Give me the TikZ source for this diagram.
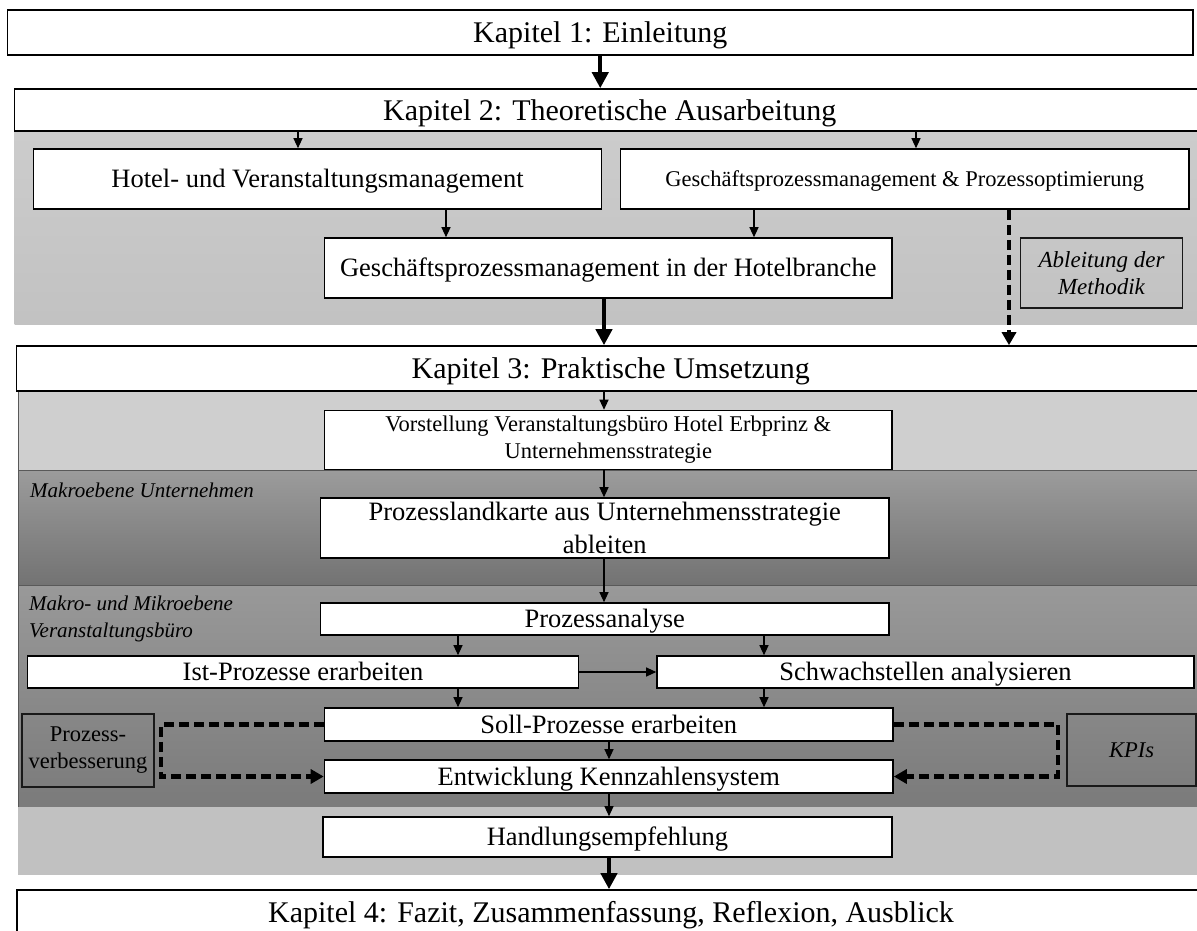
\documentclass[tikz,border=0pt]{standalone}
\usepackage{fontspec}
\setmainfont{Liberation Serif}
\usetikzlibrary{arrows.meta}

\begin{document}
\begin{tikzpicture}[x=1pt,y=-1pt,
  box/.style={draw=black, line width=1.6pt, fill=white, inner sep=0pt, align=center,
              font=\fontsize{26.5}{31}\selectfont},
  % single-line text boxes: height and depth follow the font's ascent and descent
  line30/.style={text height=26.7pt, text depth=6.5pt},
  line265/.style={text height=23.6pt, text depth=5.8pt},
  line225/.style={text height=20pt, text depth=4.9pt},
  chapbox/.style={box, line30, font=\fontsize{30}{34}\selectfont},
  sidebox/.style={draw=black!90, line width=1.3pt, inner sep=0pt, align=center,
              font=\fontsize{22.5}{27}\selectfont},
  bandlabel/.style={inner sep=0pt, align=left, font=\fontsize{21}{27}\selectfont\itshape},
  thinarrow/.style={line width=1.1pt, -{Triangle[length=10pt,width=9pt]}},
  thickarrow/.style={line width=4pt, -{Triangle[length=16pt,width=16pt]}},
  dashedarrow/.style={line width=4.2pt, dash pattern=on 10pt off 5pt,
              -{Triangle[length=13pt,width=14pt]}},
  bandline/.style={draw=black!65, line width=0.9pt}
]
\useasboundingbox (0,0) rectangle (1197,930);

% background bands
\shade[top color=black!20, bottom color=black!24] (14.5,131) rectangle (1205,324);
\fill[black!19] (18,391) rectangle (1205,470);
\shade[top color=black!39, bottom color=black!55] (18,470) rectangle (1205,585);
\path[bandline] (18,470) rectangle (1205,585);
\shade[top color=black!40, bottom color=black!52] (18,585) rectangle (1205,807);
\path[bandline] (18,585) rectangle (1205,807);
\fill[black!24.5] (18,807) rectangle (1205,875);
\path[bandline] (18,391) -- (18,470);

% chapter boxes
\node[chapbox, minimum width=1185.5pt, minimum height=45pt] (k1) at (600.25,32.5) {Kapitel 1: Einleitung};
\node[chapbox, minimum width=1190.5pt, minimum height=42pt] (k2) at (609.75,110) {Kapitel 2: Theoretische Ausarbeitung};
\node[chapbox, minimum width=1188.5pt, minimum height=45pt] (k3) at (610.75,368.5) {Kapitel 3: Praktische Umsetzung};
\node[chapbox, minimum width=1188pt, minimum height=44pt] (k4) at (611,912) {Kapitel 4: Fazit, Zusammenfassung, Reflexion, Ausblick};

% theory part
\node[box, line265, minimum width=568pt, minimum height=60pt] (hotel) at (317.5,179) {Hotel- und Veranstaltungsmanagement};
\node[box, line225, minimum width=568.5pt, minimum height=60pt, font=\fontsize{22.5}{27}\selectfont] (gpmpo) at (904.75,179) {Geschäftsprozessmanagement \& Prozessoptimierung};
\node[box, line265, minimum width=567.5pt, minimum height=60pt] (gpmh) at (608.25,268) {Geschäftsprozessmanagement in der Hotelbranche};
\node[sidebox, minimum width=162pt, minimum height=70pt, font=\fontsize{23}{27}\selectfont\itshape] (abl) at (1101.5,273) {Ableitung der\\Methodik};

% practical part
\node[box, minimum width=567.5pt, minimum height=59pt, font=\fontsize{22.5}{27}\selectfont] (vor) at (608.25,440) {Vorstellung Veranstaltungsbüro Hotel Erbprinz \&\\Unternehmensstrategie};
\node[bandlabel, anchor=west] (lmakro) at (30,490) {Makroebene Unternehmen};
\node[box, minimum width=568.5pt, minimum height=60pt, font=\fontsize{26.5}{33}\selectfont] (plk) at (604.75,528) {Prozesslandkarte aus Unternehmensstrategie\\ableiten};
\node[bandlabel, anchor=west] (lmikro) at (29,618.5) {Makro- und Mikroebene\\Veranstaltungsbüro};
\node[box, line265, minimum width=568.5pt, minimum height=32pt] (pa) at (604.75,619) {Prozessanalyse};
\node[box, line265, minimum width=551pt, minimum height=32pt] (ist) at (303,672) {Ist-Prozesse erarbeiten};
\node[box, line265, minimum width=537pt, minimum height=32pt] (schw) at (925.5,672) {Schwachstellen analysieren};
\node[box, line265, minimum width=568.5pt, minimum height=33pt] (soll) at (608.75,724.5) {Soll-Prozesse erarbeiten};
\node[box, line265, minimum width=568.5pt, minimum height=33pt] (entw) at (608.75,776.5) {Entwicklung Kennzahlensystem};
\node[sidebox, minimum width=132pt, minimum height=73pt] (pv) at (88,750.5) {Prozess-\\verbesserung};
\node[sidebox, line225, minimum width=129pt, minimum height=72pt, font=\fontsize{22.5}{27}\selectfont\itshape] (kpi) at (1131.5,750) {KPIs};
\node[box, line265, minimum width=569pt, minimum height=40pt] (handl) at (607.5,837) {Handlungsempfehlung};

% arrow columns
\coordinate (xa) at (298,0);
\coordinate (xb) at (916,0);
\coordinate (xc) at (446,0);
\coordinate (xd) at (754,0);
\coordinate (xe) at (1009,0);
\coordinate (xm) at (604,0);
\coordinate (xf) at (458,0);
\coordinate (xg) at (764,0);
\coordinate (xk) at (609,0);
\coordinate (xl) at (161,0);
\coordinate (xr) at (1058,0);

% connectors
\draw[thickarrow] (k1.south) -- (k1.south |- k2.north);
\draw[thinarrow] (xa |- k2.south) -- (xa |- hotel.north);
\draw[thinarrow] (xb |- k2.south) -- (xb |- gpmpo.north);
\draw[thinarrow] (xc |- hotel.south) -- (xc |- gpmh.north);
\draw[thinarrow] (xd |- gpmpo.south) -- (xd |- gpmh.north);
\draw[thickarrow] (xm |- gpmh.south) -- (xm |- k3.north);
\draw[dashedarrow] (xe |- gpmpo.south) -- (xe |- k3.north);

\draw[thinarrow] (xm |- k3.south) -- (xm |- vor.north);
\draw[thinarrow] (xm |- vor.south) -- (xm |- plk.north);
\draw[thinarrow] (xm |- plk.south) -- (xm |- pa.north);
\draw[thinarrow] (xf |- pa.south) -- (xf |- ist.north);
\draw[thinarrow] (xg |- pa.south) -- (xg |- schw.north);
\draw[thinarrow] (ist.east) -- (schw.west);
\draw[thinarrow] (xf |- ist.south) -- (xf |- soll.north);
\draw[thinarrow] (xg |- schw.south) -- (xg |- soll.north);
\draw[thinarrow] (xk |- soll.south) -- (xk |- entw.north);
\draw[thinarrow] (xk |- entw.south) -- (xk |- handl.north);
\draw[thickarrow] (xk |- handl.south) -- (xk |- k4.north);

\draw[dashedarrow] (soll.west) -- (xl |- soll.west) -- (xl |- entw.west) -- (entw.west);
\draw[dashedarrow] (soll.east) -- (xr |- soll.east) -- (xr |- entw.east) -- (entw.east);
\end{tikzpicture}
\end{document}
